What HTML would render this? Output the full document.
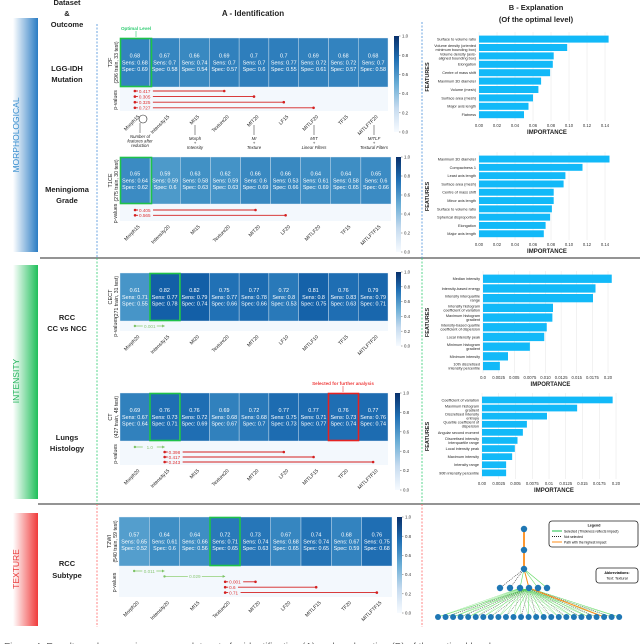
<!DOCTYPE html>
<html><head><meta charset="utf-8">
<style>
html,body{margin:0;padding:0;background:#fff;}
svg{display:block;font-family:"Liberation Sans",sans-serif;}
</style></head>
<body>
<svg id="fig" width="640" height="644" viewBox="0 0 640 644" xmlns="http://www.w3.org/2000/svg">
<defs>
<linearGradient id="gBlue" x1="0" x2="1" y1="0" y2="0"><stop offset="0" stop-color="#fff"/><stop offset="1" stop-color="#2a7cc4"/></linearGradient>
<linearGradient id="gGreen" x1="0" x2="1" y1="0" y2="0"><stop offset="0" stop-color="#fff"/><stop offset="1" stop-color="#1fbf5a"/></linearGradient>
<linearGradient id="gRed" x1="0" x2="1" y1="0" y2="0"><stop offset="0" stop-color="#fff"/><stop offset="1" stop-color="#f03a3a"/></linearGradient>
<linearGradient id="gCb" x1="0" x2="0" y1="1" y2="0"><stop offset="0" stop-color="#f7fbff"/><stop offset="0.25" stop-color="#c6dbef"/><stop offset="0.5" stop-color="#6baed6"/><stop offset="0.75" stop-color="#2171b5"/><stop offset="1" stop-color="#08306b"/></linearGradient>
</defs>
<!-- side bars -->
<rect x="13" y="18" width="25" height="234" fill="url(#gBlue)"/>
<rect x="13" y="265" width="25" height="234" fill="url(#gGreen)"/>
<rect x="13" y="513" width="25" height="113" fill="url(#gRed)"/>
<text transform="translate(19,135) rotate(-90)" text-anchor="middle" font-size="8.5" fill="#3a8fd0">MORPHOLOGICAL</text>
<text transform="translate(19,381) rotate(-90)" text-anchor="middle" font-size="8.5" fill="#22b35a">INTENSITY</text>
<text transform="translate(19,569) rotate(-90)" text-anchor="middle" font-size="8.5" fill="#e83a3a">TEXTURE</text>
<!-- headers -->
<g font-weight="bold" font-size="7.5" text-anchor="middle" fill="#222">
<text x="67" y="5">Dataset</text><text x="67" y="16">&amp;</text><text x="67" y="27">Outcome</text></g>
<text x="253" y="16" font-weight="bold" font-size="8" text-anchor="middle" fill="#222">A - Identification</text>
<text x="536" y="10" font-weight="bold" font-size="7.5" text-anchor="middle" fill="#222">B - Explanation</text>
<text x="536" y="22" font-weight="bold" font-size="7.5" text-anchor="middle" fill="#222">(Of the optimal level)</text>
<g font-weight="bold" font-size="7.5" text-anchor="middle" fill="#222">
<text x="67" y="71">LGG-IDH</text><text x="67" y="82">Mutation</text>
<text x="67" y="192">Meningioma</text><text x="67" y="203">Grade</text>
<text x="67" y="320">RCC</text><text x="67" y="331">CC vs NCC</text>
<text x="67" y="440">Lungs</text><text x="67" y="451">Histology</text>
<text x="67" y="566">RCC</text><text x="67" y="578">Subtype</text></g>
<!-- separators -->
<line x1="40" y1="258" x2="640" y2="258" stroke="#555" stroke-width="1.2"/>
<line x1="38" y1="504" x2="640" y2="504" stroke="#555" stroke-width="1.2"/>
<g stroke-dasharray="2,1.5" stroke-width="0.8">
<line x1="97" y1="24" x2="97" y2="258" stroke="#4a90d9"/><line x1="97" y1="258" x2="97" y2="504" stroke="#2ecc71"/><line x1="97" y1="504" x2="97" y2="627" stroke="#f66"/>
<line x1="422" y1="22" x2="422" y2="258" stroke="#4a90d9"/><line x1="422" y1="258" x2="422" y2="504" stroke="#2ecc71"/><line x1="422" y1="504" x2="422" y2="627" stroke="#f66"/>
</g>
<text x="4" y="650" font-size="10" fill="#666">Figure 4: Results and comparison across datasets for identification (A) and explanation (B) of the optimal level</text>
</svg>
<script>
// ---------- heatmap data ----------
const h1Cats=["Morph15","Intensity15","MI15","Texture20","MIT20","LF15","MITLF20","TF15","MITLFTF20"];
const h1Auc=[0.68,0.67,0.66,0.69,0.7,0.7,0.69,0.68,0.68];
const h1Sens=[0.68,0.7,0.74,0.7,0.7,0.77,0.72,0.72,0.7];
const h1Spec=[0.69,0.58,0.54,0.57,0.6,0.55,0.61,0.57,0.58];
const h1PFrom=[0,0,0,0], h1PTo=[3,4,5,6], h1PLab=["0.417","0.305","0.325","0.727"], h1PSig=[0,0,0,0];
const h2Cats=["Morph15","Intensity20","MI15","Texture20","MIT20","LF20","MITLF20","TF15","MITLFTF15"];
const h2Auc=[0.65,0.59,0.63,0.62,0.66,0.66,0.64,0.64,0.65];
const h2Sens=[0.64,0.59,0.58,0.59,0.6,0.53,0.61,0.58,0.6];
const h2Spec=[0.62,0.6,0.63,0.63,0.69,0.66,0.69,0.65,0.66];
const h2PFrom=[0,0], h2PTo=[4,5], h2PLab=["0.405","0.565"], h2PSig=[0,0];
const h3Cats=["Morph20","Intensity15","MI20","Texture20","MIT20","LF10","MITLF10","TF15","MITLFTF20"];
const h3Auc=[0.61,0.82,0.82,0.75,0.77,0.72,0.81,0.76,0.79];
const h3Sens=[0.71,0.77,0.79,0.77,0.78,0.8,0.8,0.83,0.79];
const h3Spec=[0.55,0.78,0.74,0.66,0.66,0.53,0.75,0.63,0.71];
const h3PFrom=[0], h3PTo=[1], h3PLab=["0.001"], h3PSig=[1];
const h4Cats=["Morph20","Intensity15","MI15","Texture20","MIT20","LF20","MITLF15","TF20","MITLFTF10"];
const h4Auc=[0.69,0.76,0.76,0.69,0.72,0.77,0.77,0.76,0.77];
const h4Sens=[0.67,0.73,0.72,0.68,0.68,0.75,0.71,0.73,0.76];
const h4Spec=[0.64,0.71,0.69,0.67,0.7,0.73,0.77,0.74,0.74];
const h4PFrom=[0,1,1,1], h4PTo=[1,5,6,8], h4PLab=["1.0","0.398","0.417","0.243"], h4PSig=[1,0,0,0];
const h5Cats=["Morph20","Intensity20","MI15","Texture20","MIT20","LF20","MITLF15","TF20","MITLFTF15"];
const h5Auc=[0.57,0.64,0.64,0.72,0.73,0.67,0.74,0.68,0.76];
const h5Sens=[0.65,0.61,0.66,0.71,0.74,0.68,0.74,0.67,0.75];
const h5Spec=[0.52,0.6,0.56,0.65,0.63,0.65,0.65,0.59,0.68];
const h5PFrom=[0,1,3,3,3], h5PTo=[1,3,4,6,8], h5PLab=["0.011","0.029","0.001","0.6","0.71"], h5PSig=[1,1,0,0,0];
const cbTicks=[0,0.2,0.4,0.6,0.8,1.0];
// ---------- bar chart data ----------
const b1Labels=["Surface to volume ratio","Volume density (oriented|minimum bounding box)","Volume density (axis-|aligned bounding box)","Elongation","Centre of mass shift","Maximum 3D diameter","Volume (mesh)","Surface area (mesh)","Major axis length","Flatness"];
const b1Values=[0.144,0.098,0.083,0.082,0.079,0.069,0.066,0.060,0.055,0.050];
const b1Ticks=[0,0.02,0.04,0.06,0.08,0.10,0.12,0.14];
const b1TickLabels=["0.00","0.02","0.04","0.06","0.08","0.10","0.12","0.14"];
const b2Labels=["Maximum 3D diameter","Compactness 1","Least axis length","Surface area (mesh)","Centre of mass shift","Minor axis length","Surface to volume ratio","Spherical disproportion","Elongation","Major axis length"];
const b2Values=[0.145,0.115,0.096,0.094,0.083,0.083,0.081,0.079,0.074,0.072];
const b2Ticks=b1Ticks, b2TickLabels=b1TickLabels;
const b3Labels=["Median intensity","Intensity-based energy","Intensity interquartile|range","Intensity histogram|coefficient of variation","Maximum histogram|gradient","Intensity-based quartile|coefficient of dispersion","Local intensity peak","Minimum histogram|gradient","Minimum intensity","10th discretised|intensity percentile"];
const b3Values=[0.0206,0.018,0.0176,0.0112,0.0111,0.0102,0.0098,0.0075,0.0040,0.0027];
const b3Ticks=[0,0.0025,0.005,0.0075,0.01,0.0125,0.015,0.0175,0.02];
const b3TickLabels=["0.0","0.0025","0.005","0.0075","0.010","0.0125","0.015","0.0175","0.20"];
const b4Labels=["Coefficient of variation","Maximum histogram|gradient","Discretised intensity|entropy","Quartile coefficient of|dispersion","Angular second moment","Discretised intensity|interquartile range","Local intensity peak","Maximum intensity","Intensity range","90th intensity percentile"];
const b4Values=[0.0195,0.0142,0.0097,0.0067,0.0061,0.0053,0.0049,0.0045,0.0036,0.0036];
const b4Ticks=b3Ticks;
const b4TickLabels=["0.00","0.0025","0.005","0.0075","0.01","0.0125","0.015","0.0175","0.20"];

const NS="http://www.w3.org/2000/svg";
const svg=document.getElementById('fig');
function mk(tag,attrs,parent,txt){const e=document.createElementNS(NS,tag);for(const k in attrs)e.setAttribute(k,attrs[k]);if(txt!==undefined)e.textContent=txt;(parent||svg).appendChild(e);return e;}
const BL=[[247,251,255],[222,235,247],[198,219,239],[158,202,225],[107,174,214],[66,146,198],[33,113,181],[8,81,156],[8,48,107]];
function blues(t){t=Math.max(0,Math.min(1,t));const s=t*8,i=Math.min(7,Math.floor(s)),f=s-i;const a=BL[i],b=BL[i+1];return 'rgb('+a.map((v,k)=>Math.round(v+(b[k]-v)*f)).join(',')+')';}

function heatmap(name,g,cats,auc,sens,spec,pf,pt,pl,ps,mod,sub){
  const grp=mk('g',{});
  
  
  const n=cats.length,w=(g.x1-g.x0)/n;
  const cx=i=>g.x0+(i+0.5)*w;
  const ps_bg=mk('rect',{x:g.x0,y:g.y1,width:g.x1-g.x0,height:g.py1-g.y1,fill:'#f3f8fd'},grp);
  
  
  for(let i=0;i<n;i++){
    const c=mk('rect',{x:g.x0+i*w,y:g.y0,width:w,height:g.y1-g.y0,fill:blues(auc[i]),stroke:'#e8f0f8','stroke-width':0.4},grp);
    
    
    const ym=(g.y0+g.y1)/2;
    const t=mk('text',{x:cx(i),y:ym-5,'text-anchor':'middle','font-size':5.4,fill:'#fff'},grp,String(auc[i]));
    
    
    mk('text',{x:cx(i),y:ym+2,'text-anchor':'middle','font-size':5.4,fill:'#fff'},grp,'Sens: '+sens[i]);
    mk('text',{x:cx(i),y:ym+8.5,'text-anchor':'middle','font-size':5.4,fill:'#fff'},grp,'Spec: '+spec[i]);
    const lb=mk('text',{transform:`translate(${cx(i)+5},${g.py1+6}) rotate(-45)`,'text-anchor':'end','font-size':5,fill:'#222'},grp,cats[i]);
    
    
  }
  // y labels
  const ym=(g.y0+g.y1)/2;
  mk('text',{transform:`translate(${g.x0-8},${ym}) rotate(-90)`,'text-anchor':'middle','font-size':5.5,fill:'#222'},grp,mod);
  mk('text',{transform:`translate(${g.x0-2},${ym}) rotate(-90)`,'text-anchor':'middle','font-size':5.2,fill:'#222'},grp,sub);
  mk('text',{transform:`translate(${g.x0-3},${(g.y1+g.py1)/2+1}) rotate(-90)`,'text-anchor':'middle','font-size':5.2,fill:'#222'},grp,'p-values');
  // p-values
  for(let k=0;k<pf.length;k++){
    const y=g.prow0+k*g.pstep,xa=cx(pf[k]),xb=cx(pt[k]);
    if(ps[k]){
      const l=mk('line',{x1:xa,y1:y,x2:xb,y2:y,stroke:'#9fd68a','stroke-width':0.9},grp);
      
      
      mk('circle',{cx:xa,cy:y,r:1.2,fill:'#7cc266'},grp);
      mk('path',{d:`M${xb} ${y} l-2.5 -1.5 v3z`,fill:'#7cc266'},grp);
      const mx=(xa+xb)/2;
      mk('rect',{x:mx-7,y:y-2.5,width:14,height:5,fill:'#f3f8fd'},grp);
      mk('text',{x:mx,y:y+1.8,'text-anchor':'middle','font-size':4.6,fill:'#8cc878'},grp,pl[k]);
    }else{
      const l=mk('line',{x1:xa,y1:y,x2:xb,y2:y,stroke:'#d42020','stroke-width':0.9},grp);
      
      
      mk('circle',{cx:xa,cy:y,r:1.3,fill:'#d42020'},grp);
      mk('circle',{cx:xb,cy:y,r:1.3,fill:'#d42020'},grp);
      mk('rect',{x:xa+3,y:y-2.5,width:pl[k].length*2.6+2,height:5,fill:'#f3f8fd'},grp);
      mk('text',{x:xa+4,y:y+1.8,'font-size':4.6,fill:'#e03030'},grp,pl[k]);
    }
  }
  // colorbar
  const cb=mk('rect',{x:g.cbx,y:g.cby0,width:5,height:g.cby1-g.cby0,fill:'url(#gCb)'},grp);
  
  
  cbTicks.forEach(v=>{const y=g.cby1-v*(g.cby1-g.cby0);
    mk('line',{x1:g.cbx+5,y1:y,x2:g.cbx+6.5,y2:y,stroke:'#333','stroke-width':0.4},grp);
    mk('text',{x:g.cbx+8,y:y+1.6,'font-size':4.4,fill:'#333'},grp,v.toFixed(1));});
  return {cx,w};
}
const H1=heatmap('heatmap-t2f',{x0:120,x1:388,y0:38,y1:87,py1:111,prow0:91,pstep:5.6,cbx:394,cby0:36,cby1:132},h1Cats,h1Auc,h1Sens,h1Spec,h1PFrom,h1PTo,h1PLab,h1PSig,'T2F','(296 train, 33 test)');
const H2=heatmap('heatmap-t1ce',{x0:120,x1:391,y0:157,y1:204,py1:221,prow0:210,pstep:5.3,cbx:396,cby0:157,cby1:252},h2Cats,h2Auc,h2Sens,h2Spec,h2PFrom,h2PTo,h2PLab,h2PSig,'T1CE','(275 train, 30 test)');
const H3=heatmap('heatmap-cect',{x0:120,x1:388,y0:273,y1:321,py1:331,prow0:326,pstep:5,cbx:396,cby0:272,cby1:346},h3Cats,h3Auc,h3Sens,h3Spec,h3PFrom,h3PTo,h3PLab,h3PSig,'CECT','(271 train, 31 test)');
const H4=heatmap('heatmap-ct',{x0:120,x1:388,y0:393,y1:441,py1:465,prow0:447,pstep:5,cbx:395,cby0:393,cby1:490},h4Cats,h4Auc,h4Sens,h4Spec,h4PFrom,h4PTo,h4PLab,h4PSig,'CT','(427 train, 48 test)');
const H5=heatmap('heatmap-t2wi',{x0:119,x1:392,y0:517,y1:566,py1:597,prow0:571,pstep:5.4,cbx:397,cby0:517,cby1:613},h5Cats,h5Auc,h5Sens,h5Spec,h5PFrom,h5PTo,h5PLab,h5PSig,'T2WI','(540 train, 59 test)');

// highlight boxes
function box(x,y,w,h,c,name){const r=mk('rect',{x,y,width:w,height:h,fill:'none',stroke:c,'stroke-width':1.6});

}
box(120.5,38.5,31,48,'#1fc24a','optimal-level-box-t2f');
box(120.5,157.5,31,46,'#1fc24a','optimal-level-box-t1ce');
box(150,273.5,30,47,'#1fc24a','optimal-level-box-cect');
box(150,393.5,30,47,'#1fc24a','optimal-level-box-ct');
box(210,517.5,30,48,'#1fc24a','optimal-level-box-t2wi');
box(328.5,393.5,30,47,'#e52222','selected-box-ct');
mk('text',{x:136,y:30,'text-anchor':'middle','font-size':4.6,'font-weight':'bold',fill:'#2ecc71'},svg,'Optimal Level');
mk('line',{x1:136,y1:31,x2:136,y2:37,stroke:'#2ecc71','stroke-width':0.6});
mk('text',{x:343,y:385,'text-anchor':'middle','font-size':4.6,'font-weight':'bold',fill:'#ef4040'},svg,'Selected for further analysis');
mk('line',{x1:343,y1:386,x2:343,y2:392,stroke:'#ef4040','stroke-width':0.6});
// annotations under T2F
mk('circle',{cx:143,cy:119,r:4,fill:'none',stroke:'#222','stroke-width':0.6});
const ann=[[140,131,["Number of","features after","reduction"]],[195,133,["Morph","+","Intensity"]],[254,133,["MI","+","Texture"]],[314,133,["MIT","+","Linear Filters"]],[374,133,["MITLF","+","Textural Filters"]]];
ann.forEach(a=>{mk('line',{x1:a[0],y1:a[1]-8,x2:a[0],y2:a[1]+2,stroke:'#222','stroke-width':0.5});
  a[2].forEach((s,j)=>{const t=mk('text',{x:a[0],y:a[1]+7+j*4.6,'text-anchor':'middle','font-size':4.3,'font-style':'italic',fill:'#222'},svg,s);
  
  });});

// ---------- bar charts ----------
function bars(name,labels,values,ticks,tlabels,g){
  const grp=mk('g',{});
  
  
  const xs=v=>g.x0+v/g.max*(g.x1-g.x0);
  const n=values.length,step=(g.y1-g.y0)/n;
  ticks.forEach((v,i)=>{mk('line',{x1:xs(v),y1:g.y0-3,x2:xs(v),y2:g.y1+2,stroke:'#e6e6e6','stroke-width':0.5},grp);
    mk('text',{x:xs(v),y:g.y1+8,'text-anchor':'middle','font-size':4.2,fill:'#333'},grp,tlabels[i]);});
  for(let i=0;i<n;i++){
    const b=mk('rect',{x:g.x0,y:g.y0+i*step+0.6,width:xs(values[i])-g.x0,height:step-1.4,fill:'#12b9f8'},grp);
    
    
    const parts=labels[i].split('|'),yc=g.y0+(i+0.5)*step;
    parts.forEach((p,j)=>mk('text',{x:g.x0-3,y:yc+1.3+(j-(parts.length-1)/2)*4,'text-anchor':'end','font-size':3.8,fill:'#222'},grp,p));
  }
  mk('text',{x:(g.x0+g.x1)/2+5,y:g.y1+15,'text-anchor':'middle','font-size':6,'font-weight':'bold',fill:'#222'},grp,'IMPORTANCE');
  mk('text',{transform:`translate(429,${(g.y0+g.y1)/2}) rotate(-90)`,'text-anchor':'middle','font-size':5.5,'font-weight':'bold',fill:'#222'},grp,'FEATURES');
}
bars('importance-chart-t2f',b1Labels,b1Values,b1Ticks,b1TickLabels,{x0:479,x1:605,max:0.14,y0:35,y1:119});
bars('importance-chart-t1ce',b2Labels,b2Values,b2Ticks,b2TickLabels,{x0:479,x1:605,max:0.14,y0:155,y1:238});
bars('importance-chart-cect',b3Labels,b3Values,b3Ticks,b3TickLabels,{x0:483,x1:608,max:0.02,y0:274,y1:371});
bars('importance-chart-ct',b4Labels,b4Values,b4Ticks,b4TickLabels,{x0:482,x1:616,max:0.02,y0:396,y1:477});

// ---------- tree ----------
const tg=mk('g',{});


const lvl3=[500,510,520,529,538,547];
const leaves=[];for(let i=0;i<25;i++)leaves.push(438+i*7.55);
mk('line',{x1:524,y1:529,x2:524,y2:569,stroke:'#ff8c1a','stroke-width':1.8},tg);
lvl3.forEach((x,i)=>mk('line',{x1:524,y1:569,x2:x,y2:588,stroke:i<2?'#222':'#5ed85e','stroke-width':0.6,'stroke-dasharray':i<2?'1,1':'none'},tg));
mk('line',{x1:524,y1:569,x2:529,y2:588,stroke:'#ff8c1a','stroke-width':1},tg);
leaves.forEach((x,i)=>{mk('line',{x1:529,y1:588,x2:x,y2:617,stroke:i%2?'#222':'#5ed85e','stroke-width':0.5,'stroke-dasharray':i%2?'1,1':'none'},tg);
  mk('line',{x1:520,y1:588,x2:x,y2:617,stroke:'#5ed85e','stroke-width':0.3},tg);});
mk('line',{x1:529,y1:588,x2:leaves[22],y2:617,stroke:'#ff8c1a','stroke-width':1},tg);
[[524,529],[524,550],[524,569]].forEach(p=>mk('circle',{cx:p[0],cy:p[1],r:3.2,fill:'#1f77b4'},tg));
lvl3.forEach(x=>mk('circle',{cx:x,cy:588,r:3.2,fill:'#1f77b4'},tg));
leaves.forEach(x=>mk('circle',{cx:x,cy:617,r:3,fill:'#1f77b4'},tg));
const lg=mk('g',{});


mk('rect',{x:549,y:521,width:89,height:26,rx:3,fill:'#fff',stroke:'#222','stroke-width':0.8},lg);
mk('text',{x:594,y:526.5,'text-anchor':'middle','font-size':3.6,'font-weight':'bold'},lg,'Legend');
mk('line',{x1:552,y1:531,x2:562,y2:531,stroke:'#1fc24a','stroke-width':1},lg);
mk('text',{x:564,y:532.3,'font-size':3.4},lg,'Selected (Thickness reflects impact)');
mk('line',{x1:552,y1:536.5,x2:562,y2:536.5,stroke:'#222','stroke-width':1,'stroke-dasharray':'1,1'},lg);
mk('text',{x:564,y:537.8,'font-size':3.4},lg,'Not selected');
mk('line',{x1:552,y1:542,x2:562,y2:542,stroke:'#ff8c1a','stroke-width':1},lg);
mk('text',{x:564,y:543.3,'font-size':3.4},lg,'Path with the highest impact');
const ab=mk('g',{});


mk('rect',{x:596,y:568,width:42,height:15,rx:3,fill:'#fff',stroke:'#222','stroke-width':0.8},ab);
mk('text',{x:617,y:574,'text-anchor':'middle','font-size':3.6,'font-weight':'bold'},ab,'Abbreviations:');
mk('text',{x:617,y:579.5,'text-anchor':'middle','font-size':3.6},ab,'Text: Textural');
</script>
</body></html>
